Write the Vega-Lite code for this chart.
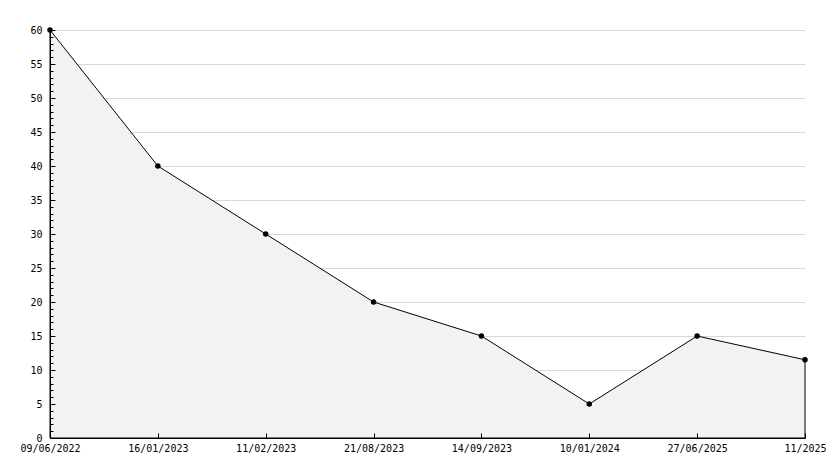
{
  "$schema": "https://vega.github.io/schema/vega-lite/v6.json",
  "width": 755,
  "height": 408,
  "autosize": {"type": "none"},
  "padding": {"left": 50, "top": 30, "right": 29, "bottom": 30},
  "background": "white",
  "config": {
    "view": {"stroke": null},
    "axis": {"labelFont": "DejaVu Sans Mono", "labelFontSize": 10, "labelColor": "black", "domainColor": "black", "tickColor": "black"}
  },
  "data": {"values": [
    {"date": "09/06/2022", "value": 60},
    {"date": "16/01/2023", "value": 40},
    {"date": "11/02/2023", "value": 30},
    {"date": "21/08/2023", "value": 20},
    {"date": "14/09/2023", "value": 15},
    {"date": "10/01/2024", "value": 5},
    {"date": "27/06/2025", "value": 15},
    {"date": "11/2025", "value": 11.5}
  ]},
  "encoding": {
    "x": {"field": "date", "type": "ordinal", "sort": null,
      "scale": {"type": "point", "padding": 0},
      "axis": {"title": null, "labelAngle": 0, "tickSize": -5, "labelPadding": 10, "grid": false, "zindex": 2}}
  },
  "layer": [
    {"mark": {"type": "area", "fill": "#f2f2f2", "stroke": "black", "strokeWidth": 1},
     "encoding": {
       "y": {"field": "value", "type": "quantitative",
         "scale": {"domain": [0, 60], "nice": false},
         "axis": {"title": null, "orient": "left", "values": [5,10,15,20,25,30,35,40,45,50,55,60],
           "grid": true, "gridColor": "#d9d9d9", "domain": false, "ticks": false, "labels": false, "zindex": 0}}
     }},
    {"mark": {"type": "point", "filled": true, "color": "black", "opacity": 1, "size": 30, "shape": "circle"},
     "encoding": {
       "y": {"field": "value", "type": "quantitative",
         "scale": {"domain": [0, 60], "nice": false},
         "axis": {"title": null, "orient": "left",
           "values": [0,1,2,3,4,5,6,7,8,9,10,11,12,13,14,15,16,17,18,19,20,21,22,23,24,25,26,27,28,29,30,31,32,33,34,35,36,37,38,39,40,41,42,43,44,45,46,47,48,49,50,51,52,53,54,55,56,57,58,59,60],
           "labelExpr": "datum.value % 5 === 0 ? datum.label : ''",
           "tickSize": {"condition": {"test": "datum.value % 5 === 0", "value": -5}, "value": -3},
           "labelPadding": 13, "grid": false, "zindex": 2}}
     }}
  ],
  "resolve": {"axis": {"y": "independent"}}
}
